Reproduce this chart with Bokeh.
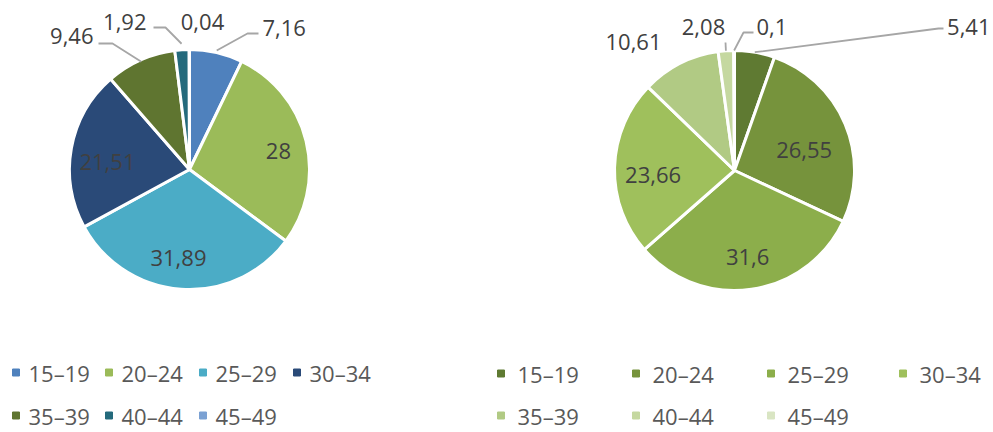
import math
from bokeh.plotting import figure
from bokeh.models import Range1d
from bokeh.core.properties import value
from bokeh.embed import file_html
from bokeh.resources import INLINE

# ---------------- data ----------------
age_groups = ["15–19", "20–24", "25–29", "30–34", "35–39", "40–44", "45–49"]
left_values = [7.16, 28, 31.89, 21.51, 9.46, 1.92, 0.04]
right_values = [5.41, 26.55, 31.6, 23.66, 10.61, 2.08, 0.1]

left_colors = ["#4f81bd", "#9bbb59", "#4bacc6", "#2a4a78", "#5f7530", "#246a7c", "#7ba1d3"]
right_colors = ["#5f7a32", "#76933c", "#8cae4b", "#9fc05c", "#b1ca84", "#c5d8a0", "#d9e5c3"]

# ---------------- layout (page pixel coords) ----------------
W, H = 993, 432
FONT = value("Open Sans")
FS = "22px"
LABEL_COLOR = "#404040"
LEGEND_COLOR = "#595959"
LEADER_COLOR = "#a6a6a6"


def Y(y):
    return H - y


def fmt(v):
    return f"{v:g}".replace(".", ",")


p = figure(width=W, height=H, x_range=Range1d(0, W), y_range=Range1d(0, H),
           output_backend="svg", toolbar_location=None, min_border=0,
           x_axis_location=None, y_axis_location=None)
p.grid.visible = False
p.outline_line_color = None
p.background_fill_color = "white"


def draw_pie(cx, cy, r, values, colors, inside, outside):
    total = sum(values)
    cum = 0.0
    mids = []
    for v, c in zip(values, colors):
        a0 = cum / total
        cum += v
        a1 = cum / total
        p.wedge(x=cx, y=Y(cy), radius=r,
                start_angle=math.pi / 2 - 2 * math.pi * a0,
                end_angle=math.pi / 2 - 2 * math.pi * a1,
                direction="clock", fill_color=c, line_color="white", line_width=3)
        mids.append(2 * math.pi * (a0 + a1) / 2)  # clockwise from top
    # inside labels
    for i, (k, dx, dy) in inside.items():
        m = mids[i]
        x = cx + k * r * math.sin(m) + dx
        y = cy - k * r * math.cos(m) + dy
        p.text(x=[x], y=[Y(y)], text=[fmt(values[i])], text_font=FONT,
               text_font_size=FS, text_color=LABEL_COLOR,
               text_align="center", text_baseline="middle")
    # outside labels with leaders
    for i, spec in outside.items():
        tx, ty, align, leader, rr = spec
        if leader:
            m = mids[i]
            ex = cx + (r + rr) * math.sin(m)
            ey = cy - (r + rr) * math.cos(m)
            xs = [ex] + [pt[0] for pt in leader]
            ys = [Y(ey)] + [Y(pt[1]) for pt in leader]
            p.line(xs, ys, line_color=LEADER_COLOR, line_width=1.8)
        p.text(x=[tx], y=[Y(ty)], text=[fmt(values[i])], text_font=FONT,
               text_font_size=FS, text_color=LABEL_COLOR,
               text_align=align, text_baseline="middle")


# left pie
draw_pie(189, 169, 120, left_values, left_colors,
         inside={1: (0.72, 5, 2), 2: (0.72, -5, 2), 3: (0.72, 3, 8)},
         outside={
             0: (262, 27, "left", [(247, 33), (258, 33)], 2),
             4: (93, 35, "right", [(112, 43), (98, 43)], -2),
             5: (146, 21, "right", [(165, 27), (153, 27)], 6),
             6: (202, 21, "center", None, 0),
         })

# right pie
draw_pie(734, 170, 120, right_values, right_colors,
         inside={1: (0.72, -10, 13), 2: (0.72, 1, 1), 3: (0.72, 5, 7)},
         outside={
             0: (990, 26, "right", [(938, 28), (943, 28)], 0),
             4: (633, 41, "center", None, 0),
             5: (703, 26, "center", [(725, 42)], 0),
             6: (756, 26, "left", [(743, 32), (753, 32)], 0),
         })

# ---------------- legends ----------------
# left legend: items flow with uneven widths
left_x = [12, 105, 199, 293, 12, 105, 199]
for j, (lab, c) in enumerate(zip(age_groups, left_colors)):
    y = 372 if j < 4 else 415
    x = left_x[j]
    p.scatter(x=[x + 3.5], y=[Y(y)], marker="square", size=7, fill_color=c, line_color=c)
    p.text(x=[x + 16], y=[Y(y)], text=[lab], text_font=FONT, text_font_size=FS,
           text_color=LEGEND_COLOR, text_align="left", text_baseline="middle")

# right legend: grid columns
right_x = [497, 632, 767, 899]
for j, (lab, c) in enumerate(zip(age_groups, right_colors)):
    row, col = divmod(j, 4)
    y = 373 if row == 0 else 415
    x = right_x[col]
    p.scatter(x=[x + 3.5], y=[Y(y)], marker="square", size=7, fill_color=c, line_color=c)
    p.text(x=[x + 20], y=[Y(y)], text=[lab], text_font=FONT, text_font_size=FS,
           text_color=LEGEND_COLOR, text_align="left", text_baseline="middle")

open("out.html", "w").write(file_html(p, INLINE))
